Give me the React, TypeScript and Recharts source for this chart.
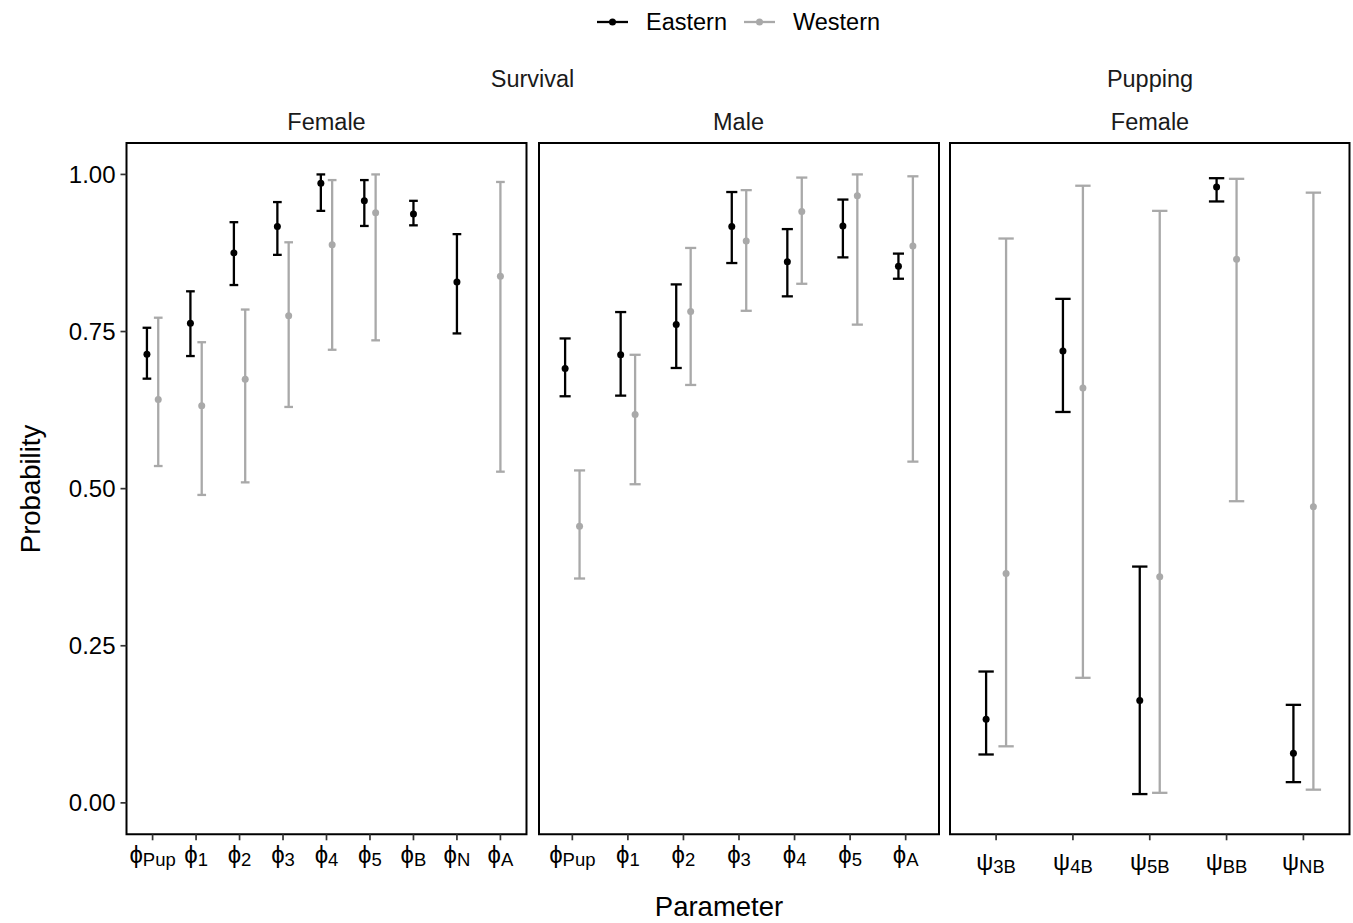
import React from 'react'
import { ScatterChart, Scatter, XAxis, YAxis, ErrorBar, ReferenceArea } from 'recharts'

// legend / series
const seriesNames = ['Eastern', 'Western']
const seriesColors = ['#000000', '#a9a9a9']

// Survival - Female
const survFemaleCats = ['Pup', '1', '2', '3', '4', '5', 'B', 'N', 'A']
const survFemaleEastEst = [0.714, 0.763, 0.875, 0.917, 0.986, 0.958, 0.937, 0.829, null]
const survFemaleEastLo = [0.675, 0.711, 0.824, 0.872, 0.942, 0.918, 0.919, 0.747, null]
const survFemaleEastHi = [0.756, 0.814, 0.924, 0.956, 1.0, 0.991, 0.958, 0.905, null]
const survFemaleWestEst = [0.642, 0.632, 0.674, 0.775, 0.888, 0.939, null, null, 0.838]
const survFemaleWestLo = [0.536, 0.49, 0.51, 0.63, 0.721, 0.736, null, null, 0.527]
const survFemaleWestHi = [0.772, 0.733, 0.785, 0.892, 0.991, 1.0, null, null, 0.988]

// Survival - Male
const survMaleCats = ['Pup', '1', '2', '3', '4', '5', 'A']
const survMaleEastEst = [0.691, 0.713, 0.761, 0.917, 0.861, 0.918, 0.854]
const survMaleEastLo = [0.647, 0.648, 0.692, 0.859, 0.806, 0.868, 0.834]
const survMaleEastHi = [0.739, 0.781, 0.825, 0.972, 0.913, 0.96, 0.874]
const survMaleWestEst = [0.44, 0.618, 0.782, 0.894, 0.941, 0.966, 0.886]
const survMaleWestLo = [0.357, 0.507, 0.665, 0.783, 0.826, 0.761, 0.543]
const survMaleWestHi = [0.529, 0.713, 0.883, 0.975, 0.995, 1.0, 0.997]

// Pupping - Female
const pupFemaleCats = ['3B', '4B', '5B', 'BB', 'NB']
const pupFemaleEastEst = [0.133, 0.719, 0.163, 0.98, 0.079]
const pupFemaleEastLo = [0.077, 0.622, 0.014, 0.957, 0.033]
const pupFemaleEastHi = [0.209, 0.802, 0.376, 0.994, 0.156]
const pupFemaleWestEst = [0.365, 0.66, 0.36, 0.865, 0.471]
const pupFemaleWestLo = [0.09, 0.199, 0.016, 0.48, 0.021]
const pupFemaleWestHi = [0.898, 0.982, 0.942, 0.993, 0.971]

const yTicks = [0, 0.25, 0.5, 0.75, 1]

const FONT = '"Liberation Sans", Arial, Helvetica, sans-serif'
const Y_MIN = -0.05
const Y_MAX = 1.05
const PLOT_TOP = 142.7
const PLOT_H = 691.3
const X_AXIS_H = 60
const PAD = 2
const DODGE = 0.13

type Pt = { x: number; y: number; err: [number, number] }

function buildSeries(est: (number | null)[], lo: (number | null)[], hi: (number | null)[], other: (number | null)[], side: number): Pt[] {
  const out: Pt[] = []
  est.forEach((v, i) => {
    if (v == null) return
    const shift = other[i] == null ? 0 : side * DODGE
    out.push({ x: i + shift, y: v, err: [v - (lo[i] as number), (hi[i] as number) - v] })
  })
  return out
}

const dot = (color: string) => (p: any) => <circle cx={p.cx} cy={p.cy} r={3.5} fill={color} />

function Panel({ left, width, cats, symbol, labelDy, east, west, showY }: any) {
  const n = cats.length
  const capHalf = (0.1 * width) / (n + 0.2)
  const yAxisW = showY ? left : 0
  const chartLeft = showY ? 0 : left - PAD
  const chartW = yAxisW + width + PAD + (showY ? 0 : PAD)

  const renderTick = (props: any) => {
    const { x, y, payload } = props
    return (
      <text x={x} y={y + labelDy} textAnchor="middle" fontFamily={FONT} fontSize={24} fill="#000">
        <tspan>{symbol}</tspan>
        <tspan fontSize={18.5} dy={3}>{cats[payload.value]}</tspan>
      </text>
    )
  }

  return (
    <div style={{ position: 'absolute', left: chartLeft, top: PLOT_TOP - PAD }}>
      <ScatterChart
        width={chartW}
        height={PLOT_H + PAD + X_AXIS_H}
        margin={{ top: PAD, right: PAD, bottom: 0, left: showY ? 0 : PAD }}
      >
        <XAxis
          type="number"
          dataKey="x"
          domain={[-0.6, n - 0.4]}
          allowDataOverflow
          ticks={cats.map((_: string, i: number) => i)}
          interval={0}
          axisLine={false}
          tickLine={{ stroke: '#333', strokeWidth: 1.7 }}
          tickSize={6}
          tick={renderTick}
          height={X_AXIS_H}
        />
        <YAxis
          type="number"
          dataKey="y"
          domain={[Y_MIN, Y_MAX]}
          allowDataOverflow
          ticks={yTicks}
          hide={!showY}
          width={yAxisW}
          axisLine={false}
          tickLine={{ stroke: '#333', strokeWidth: 1.7 }}
          tickSize={6}
          tickMargin={5}
          tickFormatter={(v: number) => v.toFixed(2)}
          tick={{ fill: '#000', fontSize: 24, fontFamily: FONT }}
        />
        <ReferenceArea
          x1={-0.6}
          x2={n - 0.4}
          y1={Y_MIN}
          y2={Y_MAX}
          fill="none"
          stroke="#000"
          strokeWidth={2}
          ifOverflow="visible"
        />
        <Scatter data={west} isAnimationActive={false} shape={dot(seriesColors[1])}>
          <ErrorBar dataKey="err" direction="y" width={capHalf} stroke={seriesColors[1]} strokeWidth={2.3} />
        </Scatter>
        <Scatter data={east} isAnimationActive={false} shape={dot(seriesColors[0])}>
          <ErrorBar dataKey="err" direction="y" width={capHalf} stroke={seriesColors[0]} strokeWidth={2.3} />
        </Scatter>
      </ScatterChart>
    </div>
  )
}

export default function App() {
  const p1East = buildSeries(survFemaleEastEst, survFemaleEastLo, survFemaleEastHi, survFemaleWestEst, -1)
  const p1West = buildSeries(survFemaleWestEst, survFemaleWestLo, survFemaleWestHi, survFemaleEastEst, 1)
  const p2East = buildSeries(survMaleEastEst, survMaleEastLo, survMaleEastHi, survMaleWestEst, -1)
  const p2West = buildSeries(survMaleWestEst, survMaleWestLo, survMaleWestHi, survMaleEastEst, 1)
  const p3East = buildSeries(pupFemaleEastEst, pupFemaleEastLo, pupFemaleEastHi, pupFemaleWestEst, -1)
  const p3West = buildSeries(pupFemaleWestEst, pupFemaleWestLo, pupFemaleWestHi, pupFemaleEastEst, 1)

  const legendX = [597, 744]

  return (
    <div style={{ position: 'absolute', left: 0, top: 0, width: 1353, height: 923, background: '#fff', fontFamily: FONT }}>
      {/* titles, strips, legend */}
      <svg width={1353} height={923} style={{ position: 'absolute', left: 0, top: 0 }}>
        {seriesNames.map((name, i) => (
          <g key={name}>
            <line x1={legendX[i]} x2={legendX[i] + 31} y1={22} y2={22} stroke={seriesColors[i]} strokeWidth={2.3} />
            <circle cx={legendX[i] + 15.5} cy={22} r={3.5} fill={seriesColors[i]} />
            <text x={legendX[i] + 49} y={22} dominantBaseline="central" fontSize={23.5} fill="#000">{name}</text>
          </g>
        ))}
        <text x={532.5} y={79} textAnchor="middle" dominantBaseline="central" fontSize={23.5} fill="#1a1a1a">Survival</text>
        <text x={326.5} y={122} textAnchor="middle" dominantBaseline="central" fontSize={23.5} fill="#1a1a1a">Female</text>
        <text x={738.5} y={122} textAnchor="middle" dominantBaseline="central" fontSize={23.5} fill="#1a1a1a">Male</text>
        <text x={1150} y={79} textAnchor="middle" dominantBaseline="central" fontSize={23.5} fill="#1a1a1a">Pupping</text>
        <text x={1150} y={122} textAnchor="middle" dominantBaseline="central" fontSize={23.5} fill="#1a1a1a">Female</text>
        <text x={719} y={916} textAnchor="middle" fontSize={27.5} fill="#000">Parameter</text>
        <text x={30} y={489} textAnchor="middle" dominantBaseline="central" fontSize={27.5} fill="#000" transform="rotate(-90 30 489)">Probability</text>
      </svg>
      <Panel left={126.5} width={400} cats={survFemaleCats} symbol="ϕ" labelDy={21} east={p1East} west={p1West} showY />
      <Panel left={538.5} width={400} cats={survMaleCats} symbol="ϕ" labelDy={21} east={p2East} west={p2West} showY={false} />
      <Panel left={950} width={399.5} cats={pupFemaleCats} symbol="ψ" labelDy={28} east={p3East} west={p3West} showY={false} />
    </div>
  )
}
